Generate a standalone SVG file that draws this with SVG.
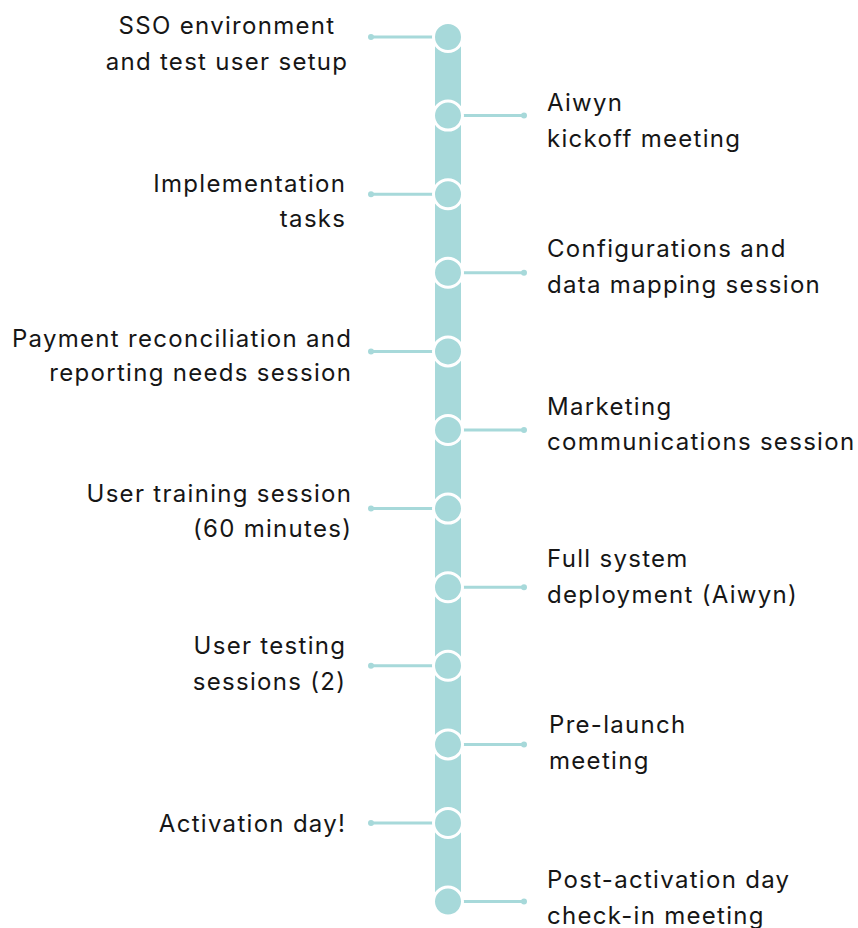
<svg xmlns="http://www.w3.org/2000/svg" width="858" height="928" viewBox="0 0 858 928">
<style>
.t{font-family:Inter,"Liberation Sans",sans-serif;font-size:24px;letter-spacing:1.3px;fill:#161616;}
.l{text-anchor:end;}
.c{text-anchor:middle;}
.ln{stroke:#a7d9da;stroke-width:3;fill:none;}
.dot{fill:#a7d9da;}
.node{fill:#a7d9da;stroke:#ffffff;stroke-width:3;}
</style>
<rect width="858" height="928" fill="#ffffff"/>
<rect id="bar" x="435" y="37" width="26" height="865" fill="#a7d9da"/>
<g id="connectors">
<path class="ln" d="M371 37H434"/><circle class="dot" cx="371" cy="37" r="3"/>
<path class="ln" d="M462 115.6H524"/><circle class="dot" cx="524" cy="115.6" r="3"/>
<path class="ln" d="M371 194.2H434"/><circle class="dot" cx="371" cy="194.2" r="3"/>
<path class="ln" d="M462 272.8H524"/><circle class="dot" cx="524" cy="272.8" r="3"/>
<path class="ln" d="M371 351.4H434"/><circle class="dot" cx="371" cy="351.4" r="3"/>
<path class="ln" d="M462 430H524"/><circle class="dot" cx="524" cy="430" r="3"/>
<path class="ln" d="M371 508.6H434"/><circle class="dot" cx="371" cy="508.6" r="3"/>
<path class="ln" d="M462 587.2H524"/><circle class="dot" cx="524" cy="587.2" r="3"/>
<path class="ln" d="M371 665.8H434"/><circle class="dot" cx="371" cy="665.8" r="3"/>
<path class="ln" d="M462 744.4H524"/><circle class="dot" cx="524" cy="744.4" r="3"/>
<path class="ln" d="M371 823H434"/><circle class="dot" cx="371" cy="823" r="3"/>
<path class="ln" d="M462 901.6H524"/><circle class="dot" cx="524" cy="901.6" r="3"/>
</g>
<g id="n1"><circle class="node" cx="448" cy="37" r="14.5"/><text class="t c" x="227" y="34">SSO environment</text><text class="t c" x="227" y="70">and test user setup</text></g>
<g id="n2"><circle class="node" cx="448" cy="115.6" r="14.5"/><text class="t" x="547" y="111">Aiwyn</text><text class="t" x="547" y="146.7">kickoff meeting</text></g>
<g id="n3"><circle class="node" cx="448" cy="194.2" r="14.5"/><text class="t l" x="346.3" y="191.7">Implementation</text><text class="t l" x="346.3" y="226.7">tasks</text></g>
<g id="n4"><circle class="node" cx="448" cy="272.8" r="14.5"/><text class="t" x="547" y="257.3">Configurations and</text><text class="t" x="547" y="293.3">data mapping session</text></g>
<g id="n5"><circle class="node" cx="448" cy="351.4" r="14.5"/><text class="t l" x="352.3" y="347">Payment reconciliation and</text><text class="t l" x="352.3" y="380.5">reporting needs session</text></g>
<g id="n6"><circle class="node" cx="448" cy="430" r="14.5"/><text class="t" x="547" y="414.7">Marketing</text><text class="t" x="547" y="449.7">communications session</text></g>
<g id="n7"><circle class="node" cx="448" cy="508.6" r="14.5"/><text class="t l" x="352.3" y="501.7">User training session</text><text class="t l" x="352.3" y="536.7">(60 minutes)</text></g>
<g id="n8"><circle class="node" cx="448" cy="587.2" r="14.5"/><text class="t" x="547" y="567.3">Full system</text><text class="t" x="547" y="603.3">deployment (Aiwyn)</text></g>
<g id="n9"><circle class="node" cx="448" cy="665.8" r="14.5"/><text class="t l" x="346.3" y="654">User testing</text><text class="t l" x="346.3" y="690">sessions (2)</text></g>
<g id="n10"><circle class="node" cx="448" cy="744.4" r="14.5"/><text class="t" x="549" y="733">Pre-launch</text><text class="t" x="549" y="769">meeting</text></g>
<g id="n11"><circle class="node" cx="448" cy="823" r="14.5"/><text class="t l" x="346.3" y="832">Activation day!</text></g>
<g id="n12"><circle class="node" cx="448" cy="901.6" r="14.5"/><text class="t" x="547" y="888.3">Post-activation day</text><text class="t" x="547" y="924">check-in meeting</text></g>
</svg>
